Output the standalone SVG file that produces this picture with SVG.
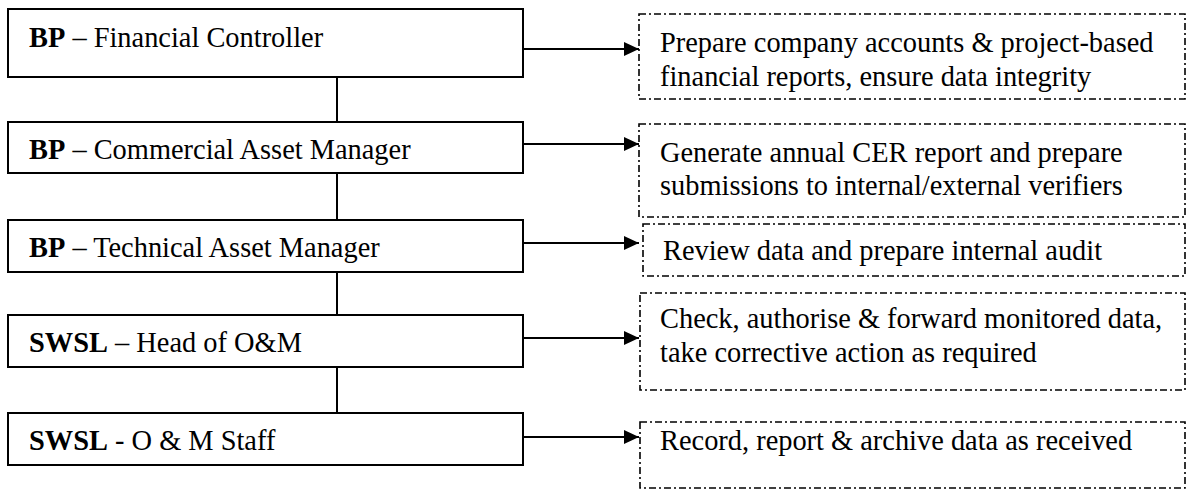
<svg xmlns="http://www.w3.org/2000/svg" width="1187" height="491" viewBox="0 0 1187 491">
<style>
.role{fill:#fff;stroke:#000;stroke-width:2}
.task{fill:#fff;stroke:#000;stroke-width:1.6;stroke-dasharray:7 3 2 3}
text{font-family:"Liberation Serif","Times New Roman",serif;font-size:28.4px;fill:#000}
.b{font-weight:bold}
.conn{stroke:#000;stroke-width:2;fill:none}
</style>
<defs>
<marker id="ah" markerUnits="userSpaceOnUse" markerWidth="16" markerHeight="16" refX="15" refY="8" orient="auto">
<path d="M0,1 L15,8 L0,15 Z" fill="#000"/>
</marker>
</defs>
<rect width="1187" height="491" fill="#fff"/>
<g id="connectors">
<line class="conn" x1="337" y1="77" x2="337" y2="122"/>
<line class="conn" x1="337" y1="173" x2="337" y2="220"/>
<line class="conn" x1="337" y1="272" x2="337" y2="315"/>
<line class="conn" x1="337" y1="367" x2="337" y2="413"/>
<line class="conn" x1="523" y1="49" x2="639" y2="49" marker-end="url(#ah)"/>
<line class="conn" x1="523" y1="144" x2="639" y2="144" marker-end="url(#ah)"/>
<line class="conn" x1="523" y1="243" x2="639" y2="243" marker-end="url(#ah)"/>
<line class="conn" x1="523" y1="338" x2="639" y2="338" marker-end="url(#ah)"/>
<line class="conn" x1="523" y1="437" x2="639" y2="437" marker-end="url(#ah)"/>
</g>
<g id="role1"><rect class="role" x="8" y="9" width="515" height="68"/><text x="29" y="47"><tspan class="b">BP</tspan> – Financial Controller</text></g>
<g id="role2"><rect class="role" x="8" y="122" width="515" height="51"/><text x="29" y="159"><tspan class="b">BP</tspan> – Commercial Asset Manager</text></g>
<g id="role3"><rect class="role" x="8" y="220" width="515" height="52"/><text x="29" y="257"><tspan class="b">BP</tspan> – Technical Asset Manager</text></g>
<g id="role4"><rect class="role" x="8" y="315" width="515" height="52"/><text x="29" y="352"><tspan class="b">SWSL</tspan> – Head of O&amp;M</text></g>
<g id="role5"><rect class="role" x="8" y="413" width="515" height="52"/><text x="29" y="450"><tspan class="b">SWSL</tspan> - O &amp; M Staff</text></g>
<g id="task1"><rect class="task" x="639" y="14" width="546" height="85"/><text x="660" y="52">Prepare company accounts &amp; project-based</text><text x="660" y="86">financial reports, ensure data integrity</text></g>
<g id="task2"><rect class="task" x="639" y="124" width="546" height="93"/><text x="660" y="162">Generate annual CER report and prepare</text><text x="660" y="195">submissions to internal/external verifiers</text></g>
<g id="task3"><rect class="task" x="643" y="224" width="542" height="52"/><text x="663" y="260">Review data and prepare internal audit</text></g>
<g id="task4"><rect class="task" x="640" y="293" width="545" height="97"/><text x="660" y="328">Check, authorise &amp; forward monitored data,</text><text x="660" y="362">take corrective action as required</text></g>
<g id="task5"><rect class="task" x="640" y="422" width="545" height="66"/><text x="660" y="450">Record, report &amp; archive data as received</text></g>
</svg>
